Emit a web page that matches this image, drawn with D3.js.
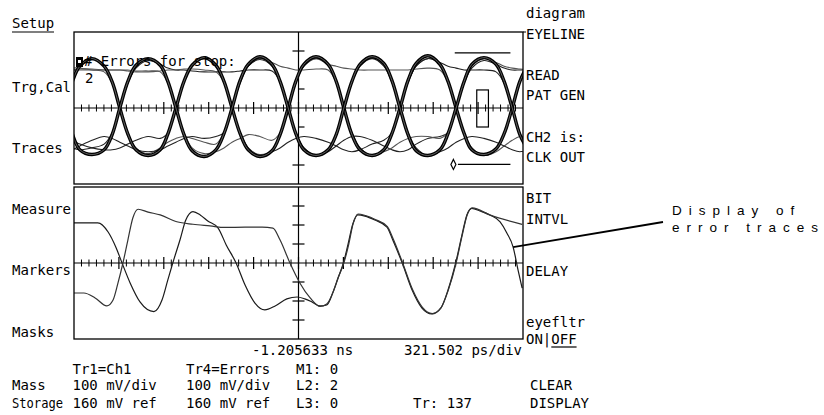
<!DOCTYPE html>
<html><head><meta charset="utf-8">
<script src="https://cdn.jsdelivr.net/npm/d3@7/dist/d3.min.js"></script>
<style>
body{margin:0;background:#fff;}
svg{display:block;}
.m{font-family:"DejaVu Sans Mono","Liberation Mono",monospace;font-size:14px;fill:#000;}
.ann{font-family:"Liberation Sans",Arial,sans-serif;font-size:13.5px;letter-spacing:7px;fill:#000;}
</style></head><body>
<svg id="c" width="824" height="415"></svg>
<script>
// ---------- DATA (time in screen divisions from left edge, level in vertical divisions from reference) ----------
const eyeTime = [-0.22,-0.04,0.13,0.40,0.67,0.85,1.02,1.20,1.38,1.65,1.92,2.09,2.27,2.45,2.63,2.90,3.16,3.34,3.52,3.70,3.88,4.14,4.41,4.59,4.77,4.94,5.12,5.39,5.66,5.84,6.01,6.19,6.37,6.64,6.90,7.08,7.26,7.44,7.62,7.88,8.15,8.33,8.51,8.69,8.86,9.13,9.40,9.58,9.76,9.93,10.11];
const eyeBoldA = [0,1.37,2.2,2.6,2.2,1.37, 0,-1.37,-2.2,-2.5,-2.2,-1.37, 0,1.4,2.25,2.65,2.25,1.4, 0,-1.35,-2.2,-2.55,-2.25,-1.4, 0,1.4,2.3,2.7,2.3,1.4, 0,-1.4,-2.2,-2.5,-2.2,-1.35, 0,1.45,2.35,2.75,2.3,1.4, 0,-1.35,-2.2,-2.45,-2.15,-1.35, 0,1.4,2.3];
const eyeBoldB = [0,-1.35,-2.2,-2.45,-2.2,-1.4, 0,1.4,2.25,2.6,2.25,1.4, 0,-1.4,-2.25,-2.55,-2.2,-1.35, 0,1.45,2.3,2.7,2.3,1.4, 0,-1.35,-2.2,-2.5,-2.2,-1.4, 0,1.4,2.3,2.7,2.35,1.45, 0,-1.4,-2.25,-2.5,-2.2,-1.35, 0,1.4,2.3,2.65,2.3,1.4, 0,-1.4,-2.2];
const eyeThin1 = [-1.9,-2.1,-2.2,-2.1,-1.9,-1.3, 0,1.3,2.1,2.5,2.3,2.1, 2.0,2.0,1.95,1.9,1.9,1.9, 1.9,1.95,2.0,2.0,1.95,1.4, 0,-1.3,-2.1,-2.5,-2.3,-2.0, -1.7,-1.5,-1.5,-1.7,-2.0,-2.2, -2.3,-2.2,-1.9,-1.6,-1.5,-1.3, 0,1.3,2.1,2.5,2.3,2.1, 2.0,2.0,2.0];
const eyeThin2 = [2.0,2.1,2.1,2.0,1.9,1.3, 0,-1.3,-2.1,-2.4,-2.1,-1.8, -1.6,-1.5,-1.6,-1.8,-1.9,-1.3, 0,1.3,2.2,2.6,2.4,2.2, 2.1,2.0,2.0,2.05,2.0,1.35, 0,-1.3,-2.1,-2.5,-2.2,-1.3, 0,1.35,2.2,2.6,2.3,1.35, 0,-1.3,-2.1,-2.5,-2.3,-2.0, -1.7,-1.5,-1.5];
const eyeThin3 = [-1.6,-1.7,-1.9,-2.1,-2.2,-2.2, -2.1,-1.9,-1.7,-1.5,-1.6,-1.3, 0,1.35,2.2,2.6,2.2,1.35, 0,-1.3,-2.1,-2.5,-2.3,-2.1, -1.8,-1.6,-1.5,-1.6,-1.8,-2.0, -2.2,-2.3,-2.2,-1.9,-1.7,-1.3, 0,1.35,2.2,2.6,2.4,2.2, 2.1,2.0,2.0,2.0,1.9,1.3, 0,-1.3,-2.1];
const eyeThin4 = [2.1,2.0,2.0,2.0,2.0,2.0, 2.0,2.0,1.95,1.95,1.9,1.3, 0,-1.3,-2.1,-2.4,-2.3,-2.1, -1.8,-1.6,-1.4,-1.5,-1.7,-1.3, 0,1.3,2.2,2.6,2.3,2.2, 2.1,2.05,2.0,2.0,2.0,2.0, 2.0,2.0,2.05,2.1,2.0,1.35, 0,-1.3,-2.1,-2.5,-2.2,-1.35, 0,1.35,2.2];
const eyeThin5 = [-2.3,-2.2,-2.0,-1.7,-1.5,-1.6, -1.8,-2.0,-2.2,-2.3,-2.2,-2.0, -1.8,-1.6,-1.5,-1.6,-1.5,-1.3, 0,1.35,2.2,2.55,2.2,1.35, 0,-1.3,-2.1,-2.45,-2.2,-1.35, 0,1.35,2.2,2.6,2.2,1.35, 0,-1.3,-2.1,-2.5,-2.3,-2.1, -1.8,-1.6,-1.5,-1.6,-1.8,-2.0, -2.2,-2.3,-2.2];
const eyeThin6 = [1.95,2.0,2.05,2.05,2.0,2.0, 2.0,1.95,1.9,1.9,1.95,2.0, 2.0,2.05,2.05,2.0,1.9,1.35, 0,-1.3,-2.1,-2.45,-2.2,-1.35, 0,1.35,2.2,2.6,2.3,1.35, 0,-1.3,-2.1,-2.5,-2.3,-2.1, -1.8,-1.6,-1.5,-1.5,-1.6,-1.3, 0,1.35,2.2,2.6,2.4,2.2, 2.1,2.05,2.0];

const tr1Time = [0,0.53,0.76,0.94,1.07,1.25,1.47,1.78,1.96,2.09,2.20,2.36,2.49,2.65,2.81,2.98,3.21,3.39,3.61,3.81,4.03,4.25,4.48,4.74,4.97,5.14,5.30,5.48,5.63,5.77,5.88,6.00,6.10,6.21,6.32,6.48,6.70,6.97,7.10,7.31,7.53,7.75,7.97,8.17,8.33,8.50,8.64,8.75,8.86,9.04,9.26,9.49,9.64,9.78,9.89,9.98];
const tr1Level = [2.11,2.11,1.63,0.79,0,-1.05,-2.05,-2.56,-1.95,-0.89,0,1.21,2.26,2.70,2.53,2.21,1.84,0.95,0,-1.16,-2.11,-2.47,-2.26,-1.89,-1.79,-1.89,-2.05,-2.26,-2.21,-1.53,-0.79,0,0.95,2.05,2.53,2.47,2.26,1.89,1.21,0,-1.42,-2.37,-2.68,-2.37,-1.42,0,1.47,2.53,2.88,2.74,2.53,2.16,1.58,0.84,-0.37,-1.32];
const tr4Time = [0,0.22,0.47,0.73,0.87,0.98,1.09,1.20,1.31,1.43,1.65,1.92,2.29,2.65,3.03,3.36,3.81,4.19,4.43,4.59,4.81,5.03,5.26,5.48,5.63,5.78,5.89,6.01,6.12,6.22,6.33,6.49,6.71,6.98,7.11,7.32,7.54,7.76,7.98,8.18,8.34,8.51,8.65,8.76,8.87,9.26,9.98];
const tr4Level = [-1.58,-1.58,-1.84,-2.26,-1.95,-1.05,0,1.21,2.37,2.83,2.68,2.53,2.17,2.04,1.95,1.87,1.89,1.89,1.84,1.21,0,-1.05,-1.84,-2.29,-2.16,-1.47,-0.74,0,1.0,2.1,2.58,2.50,2.29,1.92,1.26,0,-1.4,-2.34,-2.66,-2.34,-1.4,0,1.5,2.55,2.9,2.53,2.03];

const leftMenu = ["Setup","Trg,Cal","Traces","Measure","Markers","Masks"];
const rightMenu = ["diagram","EYELINE","READ","PAT GEN","CH2 is:","CLK OUT","BIT","INTVL","DELAY","eyefltr","ON|OFF"];
const timeLabels = ["-1.205633 ns","321.502 ps/div"];
const traceCol1 = ["Tr1=Ch1","100 mV/div","160 mV ref"];
const traceCol2 = ["Tr4=Errors","100 mV/div","160 mV ref"];
const markerCol = ["M1: 0","L2: 2","L3: 0"];
const storageRows = ["Mass","Storage"];
const clearLabels = ["CLEAR","DISPLAY"];
const errorsTitle = "# Errors for stop:";
const errorsCount = "2";
const traceCount = "Tr: 137";
const annotation = ["Display of","error traces"];

// ---------- LAYOUT ----------
const svg = d3.select("#c");
const L = 74, R = 523;
const x = d3.scaleLinear().domain([0,10]).range([L,R]);
const yTop = d3.scaleLinear().domain([-4,4]).range([184,32]);
const yBot = d3.scaleLinear().domain([-4,4]).range([339,187]);

const defs = svg.append("defs");
defs.append("clipPath").attr("id","cTop").append("rect").attr("x",L).attr("y",32).attr("width",R-L).attr("height",152);
defs.append("clipPath").attr("id","cBot").append("rect").attr("x",L).attr("y",187).attr("width",R-L).attr("height",152);

function grid(y){
  const g = svg.append("g");
  g.append("line").attr("x1",x(0)).attr("x2",x(10)).attr("y1",y(0)).attr("y2",y(0)).attr("stroke","#000").attr("stroke-width",1.2);
  const minor = d3.range(1,60).filter(i=>i%6!==0).map(i=>i/6);
  const major = d3.range(1,10);
  g.selectAll(null).data(minor).join("line")
    .attr("x1",d=>x(d)).attr("x2",d=>x(d)).attr("y1",y(0)-3.5).attr("y2",y(0)+3.5).attr("stroke","#000").attr("stroke-width",1);
  g.selectAll(null).data(major).join("line")
    .attr("x1",d=>x(d)).attr("x2",d=>x(d)).attr("y1",y(0)-6).attr("y2",y(0)+6).attr("stroke","#000").attr("stroke-width",1.2);
  g.append("line").attr("x1",x(5)).attr("x2",x(5)).attr("y1",y(4)).attr("y2",y(-4)).attr("stroke","#000").attr("stroke-width",1.2);
  return g;
}
const gTop = grid(yTop);
const gBot = grid(yBot);
gTop.selectAll(null).data([3,-3]).join("line")
  .attr("x1",x(5)-6).attr("x2",x(5)+6).attr("y1",d=>yTop(d)).attr("y2",d=>yTop(d)).attr("stroke","#000").attr("stroke-width",1.2);
gTop.selectAll(null).data([1,-1]).join("line")
  .attr("x1",x(5)).attr("x2",x(5)+6).attr("y1",d=>yTop(d)).attr("y2",d=>yTop(d)).attr("stroke","#000").attr("stroke-width",1.2);
gBot.selectAll(null).data([3,2,1,-1,-2,-3]).join("line")
  .attr("x1",x(5)-6).attr("x2",x(5)+6).attr("y1",d=>yBot(d)).attr("y2",d=>yBot(d)).attr("stroke","#000").attr("stroke-width",1.2);

// ---------- TRACES ----------
const zipE = arr => eyeTime.map((t,i)=>[t,arr[i]]);
const lineTop = d3.line().x(d=>x(d[0])).y(d=>yTop(d[1])).curve(d3.curveCatmullRom.alpha(0.5));
const lineBot = d3.line().x(d=>x(d[0])).y(d=>yBot(d[1])).curve(d3.curveMonotoneX);

const eyeG = svg.append("g").attr("clip-path","url(#cTop)");
[eyeThin1,eyeThin2,eyeThin3,eyeThin4,eyeThin5,eyeThin6].forEach((a,i)=>{
  eyeG.append("path").attr("d",lineTop(zipE(a))).attr("fill","none")
    .attr("stroke", i%2? "#555":"#222").attr("stroke-width",1.1);
});
[eyeBoldA,eyeBoldB].forEach(a=>{
  eyeG.append("path").attr("d",lineTop(zipE(a))).attr("fill","none").attr("stroke","#000").attr("stroke-width",3.4);
  eyeG.append("path").attr("d",lineTop(zipE(a))).attr("fill","none").attr("stroke","#777").attr("stroke-width",0.8);
});

const mk = svg.append("g").attr("stroke","#000").attr("fill","none").attr("stroke-width",1.2);
mk.append("line").attr("x1",x(8.48)).attr("x2",x(9.72)).attr("y1",yTop(2.9)).attr("y2",yTop(2.9));
mk.append("line").attr("x1",x(8.55)).attr("x2",x(9.72)).attr("y1",yTop(-2.97)).attr("y2",yTop(-2.97));
mk.append("rect").attr("x",x(8.97)).attr("y",yTop(0.95)).attr("width",x(9.23)-x(8.97)).attr("height",yTop(-1.0)-yTop(0.95));
mk.append("path").attr("d",()=>{const cx=x(8.45), cy=yTop(-2.97);return `M${cx},${cy-5}L${cx+2.5},${cy}L${cx},${cy+5}L${cx-2.5},${cy}Z`;});

const botG = svg.append("g").attr("clip-path","url(#cBot)");
botG.append("path").attr("d",lineBot(tr1Time.map((t,i)=>[t,tr1Level[i]]))).attr("fill","none").attr("stroke","#1a1a1a").attr("stroke-width",1.2);
botG.append("path").attr("d",lineBot(tr4Time.map((t,i)=>[t,tr4Level[i]]))).attr("fill","none").attr("stroke","#333").attr("stroke-width",1.2);

svg.append("rect").attr("x",L).attr("y",32).attr("width",R-L).attr("height",152).attr("fill","none").attr("stroke","#000").attr("stroke-width",1.3);
svg.append("rect").attr("x",L).attr("y",187).attr("width",R-L).attr("height",152).attr("fill","none").attr("stroke","#000").attr("stroke-width",1.3);
svg.append("line").attr("x1",R).attr("x2",R+3).attr("y1",32).attr("y2",32).attr("stroke","#000");

// ---------- TEXT ----------
function t(str,px,py){ return svg.append("text").attr("class","m").attr("x",px).attr("y",py).text(str); }
const leftY = [28,91.5,153,214,275,337];
leftMenu.forEach((s,i)=>t(s,12,leftY[i]));
svg.append("line").attr("x1",12).attr("x2",54).attr("y1",32).attr("y2",32).attr("stroke","#000").attr("stroke-width",1.2);

const rightY = [18,39,80,100,142,162,203,224,276,327,344];
rightMenu.forEach((s,i)=>t(s,526,rightY[i]));
{
  const on = svg.selectAll("text.m").filter(function(){return this.textContent==="ON|OFF";}).node();
  const x0 = 526 + on.getSubStringLength(0,3);
  const x1 = 526 + on.getComputedTextLength();
  svg.append("line").attr("x1",x0).attr("x2",x1).attr("y1",347).attr("y2",347).attr("stroke","#000").attr("stroke-width",1.2);
}

svg.append("rect").attr("x",76).attr("y",57).attr("width",7).attr("height",10).attr("fill","#000");
svg.append("rect").attr("x",78).attr("y",60).attr("width",3).attr("height",3).attr("fill","#fff");
t(errorsTitle,84,66);
t(errorsCount,85,83);

t(timeLabels[0],252,355);
t(timeLabels[1],404,355);

const rowY = [374,390,408];
traceCol1.forEach((s,i)=>t(s,72.5,rowY[i]));
traceCol2.forEach((s,i)=>t(s,186,rowY[i]));
markerCol.forEach((s,i)=>t(s,296,rowY[i]));
t(storageRows[0],12,rowY[1]);
t(storageRows[1],12,rowY[2]).attr("textLength",51).attr("lengthAdjust","spacingAndGlyphs");
t(traceCount,413,rowY[2]);
clearLabels.forEach((s,i)=>t(s,530,rowY[i+1]));

svg.append("line").attr("x1",x(9.78)).attr("y1",yBot(0.84)).attr("x2",663).attr("y2",222).attr("stroke","#000").attr("stroke-width",1.8);
svg.append("text").attr("class","ann").attr("x",672).attr("y",215).text(annotation[0]);
svg.append("text").attr("class","ann").attr("x",672).attr("y",232).text(annotation[1]);
</script>
</body></html>
